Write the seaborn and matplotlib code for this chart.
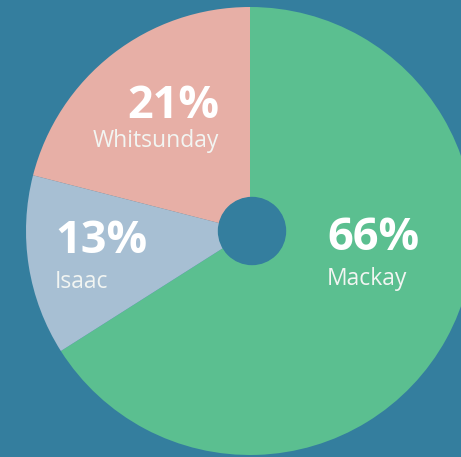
import matplotlib
matplotlib.use("Agg")
import matplotlib.pyplot as plt
import seaborn as sns

# region shares (percent), clockwise from 12 o'clock
regions = ["Mackay", "Isaac", "Whitsunday"]
shares = [66, 13, 21]
colours = ["#5bbf90", "#a7bfd3", "#e7afa6"]
bg = "#347e9e"

sns.set_style("white")
plt.rcParams["font.family"] = ["Open Sans", "DejaVu Sans"]
palette = sns.color_palette(colours)

fig = plt.figure(figsize=(4.61, 4.57), dpi=100, facecolor=bg)
ax = fig.add_axes([0, 0, 1, 1])
ax.set_facecolor(bg)

# pie drawn in pixel-like data units
cx, cy, r = 250, 226, 224
ax.pie(shares, colors=palette, startangle=90, counterclock=False,
       center=(cx, cy), radius=r, wedgeprops=dict(linewidth=0))
ax.add_patch(plt.Circle((cx + 2, cy), 33.5, color=bg, zorder=3))

ax.set_xlim(0, 461)
ax.set_ylim(0, 457)
ax.set_aspect("equal")
ax.axis("off")

# label layout: (x, pct baseline, name baseline, alignment)
layout = {
    "Mackay": (327, 207, 172, "left"),
    "Isaac": (55, 204, 169, "left"),
    "Whitsunday": (219, 339, 310, "right"),
}
for name, val in zip(regions, shares):
    x, yp, yn, ha = layout[name]
    ax.text(x, yp, f"{val}%", color="white", fontsize=32.5, fontweight="bold",
            ha=ha, va="baseline")
    ax.text(x, yn, name, color="#f2f5f2", fontsize=16.5, ha=ha, va="baseline")

fig.savefig("out.png", dpi=100, facecolor=bg)
